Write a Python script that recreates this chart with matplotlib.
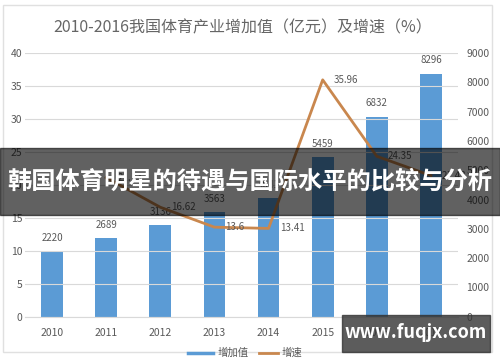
import matplotlib
matplotlib.use("Agg")
import matplotlib.pyplot as plt
from matplotlib.patches import Rectangle

plt.rcParams['font.family'] = ['Noto Sans CJK SC', 'DejaVu Sans']

years = ['2010', '2011', '2012', '2013', '2014', '2015', '2016', '2017']
added_value = [2220, 2689, 3136, 3563, 4041, 5459, 6832, 8296]
growth_years = ['2011', '2012', '2013', '2014', '2015', '2016', '2017']
growth = [21.13, 16.62, 13.6, 13.41, 35.96, 24.35, 21.43]

left_ticks = [0, 5, 10, 15, 20, 25, 30, 35, 40]
right_ticks = [0, 1000, 2000, 3000, 4000, 5000, 6000, 7000, 8000, 9000]

title = '2010-2016我国体育产业增加值（亿元）及增速（%）'
banner = '韩国体育明星的待遇与国际水平的比较与分析'
watermark = 'www.fuqjx.com'

txt = '#595959'
bar_c = '#5B9BD5'
line_c = '#C9874E'

fig = plt.figure(figsize=(5, 3.62), dpi=100)
ax = fig.add_axes([0.05, 0.125, 0.866, 0.728])
ax2 = ax.twinx()

x = list(range(len(years)))
gx = [years.index(y) for y in growth_years]

# bars on right axis
ax2.bar(x, added_value, width=0.4, color=bar_c, zorder=2)
for xi, v in zip(x, added_value):
    ax2.annotate(str(v), (xi, v), xytext=(0, 6), textcoords='offset points',
                 ha='center', va='bottom', fontsize=7, color=txt)
ax2.set_ylim(0, 9000)
ax2.set_yticks(right_ticks)

# growth line on left axis, drawn above bars
ax.set_zorder(ax2.get_zorder() + 1)
ax.patch.set_visible(False)
ax.plot(gx, growth, color=line_c, lw=2, zorder=3)
for xi, v in zip(gx, growth):
    ax.annotate(f'{v:g}', (xi, v), xytext=(8, 0), textcoords='offset points',
                ha='left', va='center', fontsize=7, color=txt)
ax.set_ylim(0, 40)
ax.set_yticks(left_ticks)
ax.set_xlim(-0.5, len(years) - 0.5)
ax.set_xticks(x)
ax.set_xticklabels(years)

ax.grid(axis='y', color='#D9D9D9', lw=0.8)
ax.set_axisbelow(True)
for a in (ax, ax2):
    for s in a.spines.values():
        s.set_visible(False)
    a.tick_params(length=0, labelsize=7.5, labelcolor=txt)
ax.spines['bottom'].set_visible(True)
ax.spines['bottom'].set_color('#D9D9D9')
ax.tick_params(axis='x', pad=8)
ax.tick_params(axis='y', pad=2)
ax2.tick_params(axis='y', pad=6)

fig.text(0.485, 0.922, title, ha='center', va='center', fontsize=11.5, color='#666666')

# legend at bottom
fig.add_artist(plt.Line2D([0.376, 0.426], [0.025, 0.025], color=bar_c, lw=2.5))
fig.text(0.436, 0.025, '增加值', ha='left', va='center', fontsize=7.5, color=txt)
fig.add_artist(plt.Line2D([0.518, 0.556], [0.025, 0.025], color=line_c, lw=2))
fig.text(0.564, 0.025, '增速', ha='left', va='center', fontsize=7.5, color=txt)

# chart border
fig.add_artist(Rectangle((0.006, 0.028), 0.978, 0.958, transform=fig.transFigure,
                         fill=False, ec='#E0E0E0', lw=1))

# overlay banner
fig.add_artist(Rectangle((0, 1 - 215 / 362), 1, 67 / 362, transform=fig.transFigure,
                         color='black', alpha=0.62, zorder=10))
fig.text(0.5, 1 - 182 / 362, banner, ha='center', va='center', fontsize=17.5,
         color='white', fontweight='bold', zorder=11)

# watermark
fig.add_artist(Rectangle((342 / 500, 1 - 352 / 362), 148 / 500, 37 / 362,
                         transform=fig.transFigure, color='#333333', alpha=0.8, zorder=10))
fig.text(416 / 500, 1 - 333 / 362, watermark, ha='center', va='center', fontsize=13,
         color='white', fontweight='bold', zorder=11)

fig.savefig('out.png', dpi=100)
